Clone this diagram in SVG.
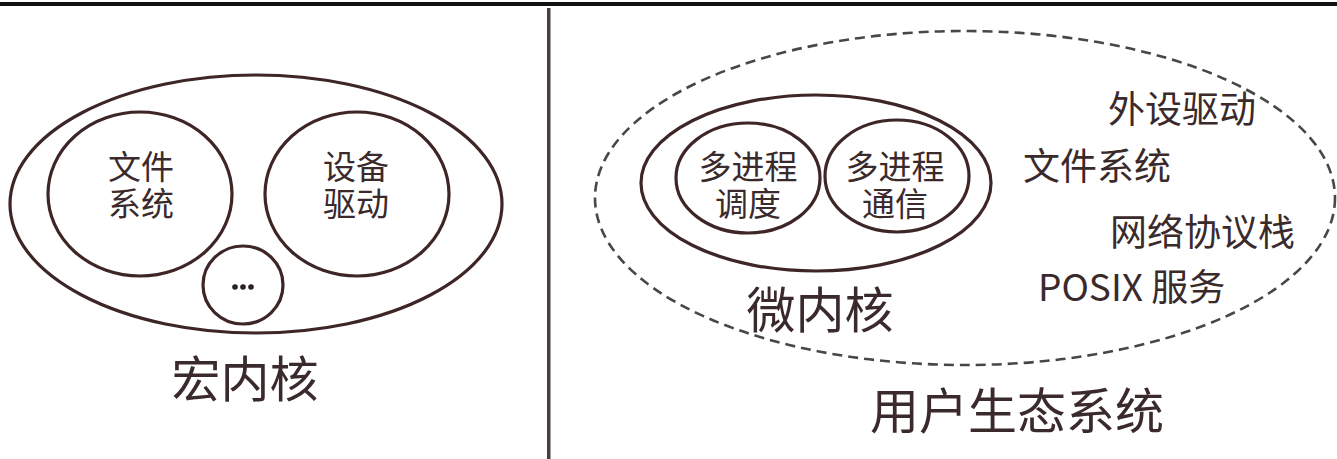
<svg xmlns="http://www.w3.org/2000/svg" width="1337" height="459" viewBox="0 0 1337 459">
<style>
.s{fill:none;stroke:#3e2526;stroke-width:3.2}
.d{fill:none;stroke:#4a4646;stroke-width:2.6;stroke-dasharray:10 6}
.t{font-family:"Noto Sans CJK SC","Noto Sans",sans-serif;fill:#3a2a2b;text-anchor:middle}
.m{font-family:"Liberation Sans","Noto Sans CJK SC",sans-serif;font-size:33px}
.b{font-size:49px}
.r{font-family:"Noto Sans CJK SC","Noto Sans",sans-serif;fill:#3a2a2b;font-size:37px}
</style>
<rect width="1337" height="459" fill="#ffffff"/>
<rect x="0" y="2" width="1337" height="4" fill="#111111"/>
<rect x="547" y="8" width="3.5" height="451" fill="#4a3e3e"/>
<g id="macro-kernel">
<ellipse class="s" cx="256" cy="204" rx="246" ry="129"/>
<text class="t b" x="245" y="397">宏内核</text>
</g>
<g id="file-system">
<ellipse class="s" cx="140" cy="194" rx="92" ry="82"/>
<text class="t m" x="141" y="179">文件</text>
<text class="t m" x="141" y="216">系统</text>
</g>
<g id="device-driver">
<ellipse class="s" cx="357" cy="194" rx="92" ry="82"/>
<text class="t m" x="356" y="179">设备</text>
<text class="t m" x="356" y="216">驱动</text>
</g>
<g id="others">
<ellipse class="s" cx="243" cy="285" rx="40" ry="39"/>
<circle cx="235" cy="287" r="2.8" fill="#2a2020"/>
<circle cx="243" cy="287" r="2.8" fill="#2a2020"/>
<circle cx="251" cy="287" r="2.8" fill="#2a2020"/>
</g>
<g id="user-ecosystem">
<ellipse class="d" cx="965" cy="198" rx="370" ry="167"/>
<text class="t b" x="1017" y="429">用户生态系统</text>
<text class="r" x="1108" y="123">外设驱动</text>
<text class="r" x="1023" y="180">文件系统</text>
<text class="r" x="1110" y="246">网络协议栈</text>
<text class="r" x="1038" y="301">POSIX 服务</text>
</g>
<g id="micro-kernel">
<ellipse class="s" cx="816" cy="183" rx="175" ry="88"/>
<text class="t b" x="820" y="328">微内核</text>
</g>
<g id="multi-process-scheduling">
<ellipse class="s" cx="748" cy="178" rx="72" ry="55"/>
<text class="t m" x="748" y="179">多进程</text>
<text class="t m" x="748" y="216">调度</text>
</g>
<g id="multi-process-communication">
<ellipse class="s" cx="897" cy="176" rx="72" ry="56"/>
<text class="t m" x="895" y="179">多进程</text>
<text class="t m" x="895" y="216">通信</text>
</g>
<g id="connectors"></g>
</svg>
